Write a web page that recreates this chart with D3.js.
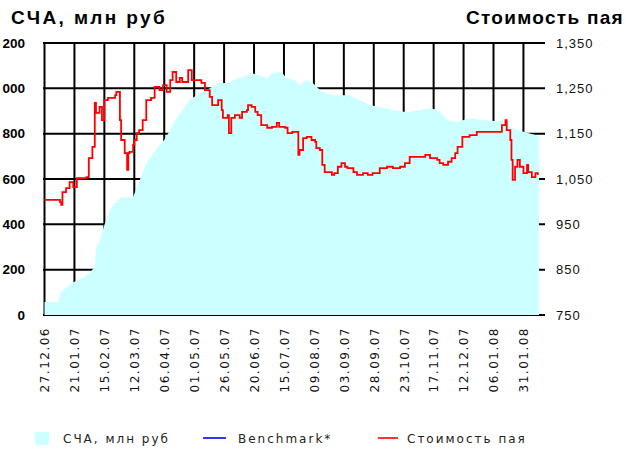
<!DOCTYPE html>
<html>
<head>
<meta charset="utf-8">
<script src="https://cdn.jsdelivr.net/npm/d3@7"></script>
<style>
body { margin: 0; background: #fff; }
svg { display: block; }
</style>
</head>
<body>
<script>
// СЧА, млн руб
var navDates = ['27.12.06','08.01.07','09.01.07','19.01.07','01.02.07','07.02.07','08.02.07','11.02.07',
	'15.02.07','21.02.07','28.02.07','11.03.07','14.03.07','22.03.07','31.03.07','06.04.07','11.04.07',
	'15.04.07','21.04.07','27.04.07','06.05.07','14.05.07','22.05.07','31.05.07','02.06.07','11.06.07',
	'18.06.07','23.06.07','01.07.07','05.07.07','13.07.07','17.07.07','24.07.07','28.07.07','03.08.07',
	'08.08.07','16.08.07','25.08.07','06.09.07','16.09.07','25.09.07','03.10.07','14.10.07','26.10.07',
	'06.11.07','14.11.07','20.11.07','25.11.07','28.11.07','07.12.07','17.12.07','28.12.07','09.01.08',
	'14.01.08','20.01.08','26.01.08','06.02.08','13.02.08'];
var navValues = [57,57,97,141,176,212,300,322,
	397,476,516,521,560,670,736,772,816,
	860,900,948,979,1000,1023,1023,1037,1050,
	1068,1059,1045,1068,1072,1045,1037,1014,1037,
	1023,983,970,970,948,926,917,904,895,
	904,913,904,882,860,851,869,860,855,
	860,829,816,800,790];

// Стоимость пая
var priceDates = ['27.12.06','09.01.07','10.01.07','11.01.07','14.01.07','17.01.07','20.01.07','23.01.07',
	'31.01.07','02.02.07','05.02.07','07.02.07','08.02.07','11.02.07','13.02.07','15.02.07','18.02.07',
	'24.02.07','25.02.07','28.02.07','01.03.07','04.03.07','06.03.07','07.03.07','08.03.07','11.03.07',
	'12.03.07','14.03.07','16.03.07','19.03.07','22.03.07','26.03.07','29.03.07','02.04.07','05.04.07',
	'08.04.07','11.04.07','13.04.07','16.04.07','19.04.07','21.04.07','26.04.07','29.04.07','03.05.07',
	'07.05.07','10.05.07','14.05.07','16.05.07','21.05.07','24.05.07','25.05.07','29.05.07','30.05.07',
	'01.06.07','04.06.07','08.06.07','10.06.07','14.06.07','15.06.07','18.06.07','21.06.07','23.06.07',
	'26.06.07','01.07.07','05.07.07','09.07.07','11.07.07','16.07.07','18.07.07','22.07.07','27.07.07',
	'28.07.07','31.07.07','03.08.07','07.08.07','10.08.07','11.08.07','14.08.07','16.08.07','18.08.07',
	'24.08.07','26.08.07','29.08.07','01.09.07','04.09.07','06.09.07','11.09.07','14.09.07','19.09.07',
	'23.09.07','27.09.07','03.10.07','09.10.07','14.10.07','20.10.07','24.10.07','28.10.07','06.11.07',
	'10.11.07','14.11.07','20.11.07','22.11.07','25.11.07','29.11.07','02.12.07','05.12.07','07.12.07',
	'11.12.07','17.12.07','23.12.07','28.12.07','09.01.08','13.01.08','16.01.08','17.01.08','20.01.08',
	'21.01.08','22.01.08','24.01.08','26.01.08','28.01.08','31.01.08','03.02.08','04.02.08','07.02.08',
	'10.02.08','12.02.08'];
var priceValues = [1004,999,993,1021,1030,1043,1032,1052,
	1054,1096,1121,1218,1196,1209,1180,1224,1229,
	1235,1242,1180,1136,1107,1070,1107,1110,1125,
	1136,1151,1158,1180,1224,1229,1253,1246,1257,
	1242,1268,1286,1264,1273,1264,1290,1268,1268,
	1262,1246,1231,1213,1224,1202,1185,1191,1151,
	1185,1191,1185,1198,1202,1213,1209,1198,1191,
	1169,1163,1165,1174,1165,1163,1151,1154,1103,
	1114,1140,1143,1136,1132,1118,1114,1081,1065,
	1059,1063,1077,1085,1077,1074,1065,1059,1063,
	1059,1063,1074,1077,1074,1077,1085,1099,1099,
	1103,1096,1092,1085,1081,1088,1096,1107,1121,
	1143,1147,1154,1154,1154,1169,1180,1158,1136,
	1092,1048,1077,1092,1077,1063,1081,1065,1054,
	1063,1059];

var tickLabels = ['27.12.06','21.01.07','15.02.07','12.03.07','06.04.07','01.05.07','26.05.07','20.06.07',
	'15.07.07','09.08.07','03.09.07','28.09.07','23.10.07','17.11.07','12.12.07','06.01.08','31.01.08'];
var leftTicks = [0,200,400,600,800,1000,1200];
var rightTicks = [750,850,950,1050,1150,1250,1350];

var parse = d3.timeParse('%d.%m.%y');
var nav = navDates.map(function(d, i) { return {date: parse(d), v: navValues[i]}; });
var price = priceDates.map(function(d, i) { return {date: parse(d), v: priceValues[i]}; });
var tickDates = tickLabels.map(parse);

var width = 626, height = 449;
var svg = d3.select('body').append('svg')
	.attr('width', width)
	.attr('height', height);

var x = d3.scaleTime().domain([parse('27.12.06'), parse('13.02.08')]).range([44.5, 539]);
var yL = d3.scaleLinear().domain([0, 1200]).range([315, 43]);
var yR = d3.scaleLinear().domain([750, 1350]).range([315, 43]);

// grid (drawn first, the area covers it)
var grid = svg.append('g').attr('stroke', '#000').attr('stroke-width', 2);
grid.selectAll('.h').data(leftTicks).enter().append('line')
	.attr('x1', 43).attr('x2', 545)
	.attr('y1', function(d) { return yL(d); })
	.attr('y2', function(d) { return yL(d); });
grid.selectAll('.v').data(tickDates).enter().append('line')
	.attr('x1', function(d) { return x(d); })
	.attr('x2', function(d) { return x(d); })
	.attr('y1', 42).attr('y2', 315);

svg.append('path')
	.datum(nav)
	.attr('fill', '#ccffff')
	.attr('d', d3.area()
		.x(function(d) { return x(d.date); })
		.y0(yL(0))
		.y1(function(d) { return yL(d.v); }));

svg.append('path')
	.datum(price)
	.attr('fill', 'none')
	.attr('stroke', '#ff0000')
	.attr('stroke-width', 1.8)
	.attr('d', d3.line()
		.curve(d3.curveStepAfter)
		.x(function(d) { return x(d.date); })
		.y(function(d) { return yR(d.v); }));

// left axis (the thousands digit falls off the left edge, as in the original)
var left = svg.append('g')
	.attr('transform', 'translate(25,0)')
	.call(d3.axisLeft(yL).tickValues(leftTicks).tickSize(0).tickPadding(0)
		.tickFormat(function(d) { return d >= 1000 ? d3.format(',')(d).replace(',', ' ') : d; }));
left.select('.domain').remove();
left.selectAll('text')
	.attr('font-family', 'Liberation Sans, Arial, sans-serif')
	.attr('font-weight', 'bold')
	.attr('font-size', 13.5)
	.attr('fill', '#000');

// right axis
var right = svg.append('g')
	.attr('transform', 'translate(556,0)')
	.call(d3.axisRight(yR).tickValues(rightTicks).tickSize(0).tickPadding(0).tickFormat(d3.format(',')));
right.select('.domain').remove();
right.selectAll('text')
	.attr('font-family', 'Liberation Sans, Arial, sans-serif')
	.attr('font-size', 13)
	.attr('letter-spacing', 1)
	.attr('fill', '#111');

// bottom axis, rotated dates
var bottom = svg.append('g')
	.attr('transform', 'translate(0,315)')
	.call(d3.axisBottom(x).tickValues(tickDates).tickSize(0).tickFormat(d3.timeFormat('%d.%m.%y')));
bottom.select('.domain').remove();
bottom.selectAll('text')
	.attr('transform', 'rotate(-90)')
	.attr('x', -12)
	.attr('y', 0)
	.attr('dy', '0.36em')
	.style('text-anchor', 'end')
	.attr('font-family', 'DejaVu Sans, sans-serif')
	.attr('font-size', 12)
	.attr('letter-spacing', 1.5)
	.attr('fill', '#111');

// titles
svg.append('text')
	.attr('x', 11).attr('y', 24)
	.attr('font-family', 'Liberation Sans, Arial, sans-serif')
	.attr('font-weight', 'bold')
	.attr('font-size', 19)
	.attr('letter-spacing', 2.4)
	.text('СЧА, млн руб');
svg.append('text')
	.attr('x', 624).attr('y', 24)
	.attr('text-anchor', 'end')
	.attr('font-family', 'Liberation Sans, Arial, sans-serif')
	.attr('font-weight', 'bold')
	.attr('font-size', 19)
	.attr('letter-spacing', 1.3)
	.text('Стоимость пая');

// legend
var legend = svg.append('g')
	.attr('font-family', 'DejaVu Sans, sans-serif')
	.attr('font-size', 12)
	.attr('letter-spacing', 2)
	.attr('fill', '#222');
legend.append('rect').attr('x', 35).attr('y', 432).attr('width', 14).attr('height', 13).attr('fill', '#ccffff');
legend.append('text').attr('x', 63).attr('y', 443).text('СЧА, млн руб');
legend.append('line').attr('x1', 203).attr('x2', 226).attr('y1', 438).attr('y2', 438)
	.attr('stroke', '#0000ff').attr('stroke-width', 1.6);
legend.append('text').attr('x', 238).attr('y', 443).text('Benchmark*');
legend.append('line').attr('x1', 378).attr('x2', 398).attr('y1', 438).attr('y2', 438)
	.attr('stroke', '#ff0000').attr('stroke-width', 1.6);
legend.append('text').attr('x', 407).attr('y', 443).text('Стоимость пая');
</script>
</body>
</html>
